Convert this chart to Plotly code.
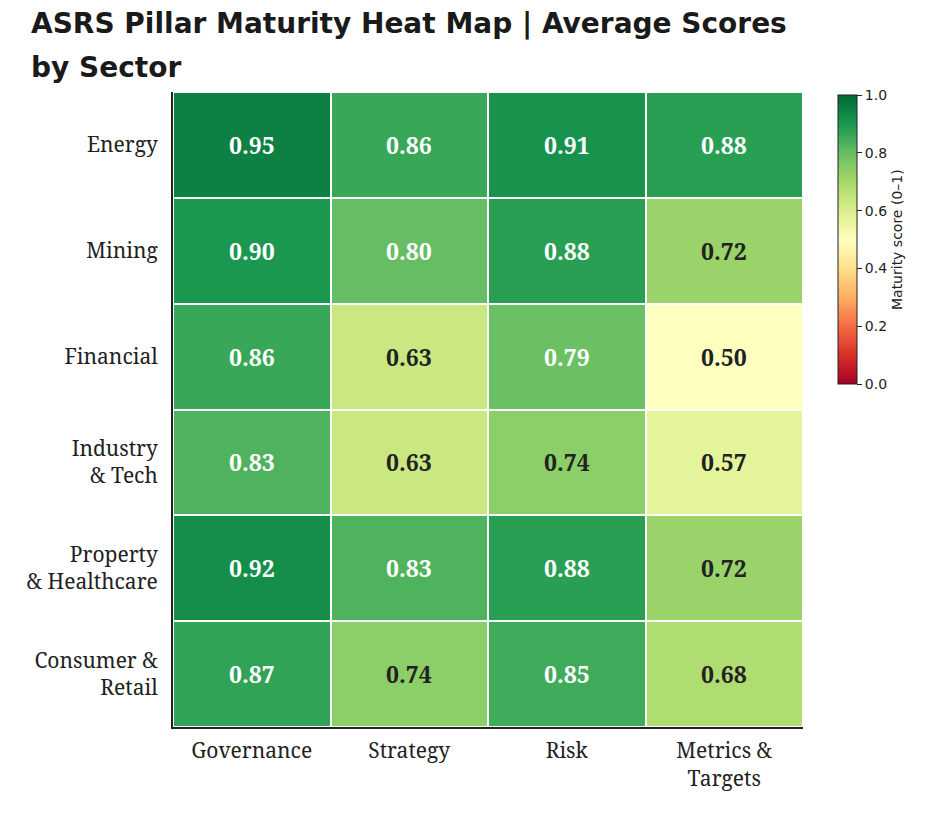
import plotly.graph_objects as go

sectors = ["Energy", "Mining", "Financial", "Industry<br>& Tech", "Property<br>& Healthcare", "Consumer &<br>Retail"]
pillars = ["Governance", "Strategy", "Risk", "Metrics &<br>Targets"]
scores = [
    [0.95, 0.86, 0.91, 0.88],
    [0.90, 0.80, 0.88, 0.72],
    [0.86, 0.63, 0.79, 0.50],
    [0.83, 0.63, 0.74, 0.57],
    [0.92, 0.83, 0.88, 0.72],
    [0.87, 0.74, 0.85, 0.68],
]
title_lines = ["ASRS Pillar Maturity Heat Map | Average Scores", "by Sector"]

serif = "Noto Serif, DejaVu Serif, Liberation Serif, serif"

fig = go.Figure(go.Heatmap(
    z=scores, x=pillars, y=sectors,
    colorscale="RdYlGn", zmin=0, zmax=1,
    xgap=2, ygap=2,
    hoverinfo="skip",
    colorbar=dict(
        x=1.0556, xanchor="left", y=0.995, yanchor="top",
        xpad=0, ypad=0,
        len=289, lenmode="pixels", thickness=19,
        outlinecolor="#222", outlinewidth=1,
        tickvals=[0, 0.2, 0.4, 0.6, 0.8, 1.0], tickformat=".1f",
        ticks="outside", ticklen=5, tickcolor="#222",
        tickfont=dict(family="DejaVu Sans", size=14, color="#222"),
        title=dict(text="Maturity score (0–1)", side="right",
                   font=dict(family="DejaVu Sans", size=14, color="#222")),
    ),
))

for i, s in enumerate(sectors):
    for j, p in enumerate(pillars):
        v = scores[i][j]
        fig.add_annotation(x=p, y=s, text=f"<b>{v:.2f}</b>", showarrow=False,
                           font=dict(family=serif, size=23,
                                     color="white" if v >= 0.75 else "#222"))

for k, line in enumerate(title_lines):
    fig.add_annotation(
        text=f"<b>{line}</b>",
        xref="paper", yref="paper", x=-0.2285, y=1.1372 - k * 44 / 635,
        xanchor="left", yanchor="top", align="left", showarrow=False,
        font=dict(family="DejaVu Sans", size=28, color="#1a1a1a"))

fig.update_layout(
    width=933, height=826,
    margin=dict(l=165, r=138, t=84, b=107),
    paper_bgcolor="white", plot_bgcolor="white",
    xaxis=dict(showline=True, linecolor="#222", linewidth=2, ticks="outside",
               ticklen=4, tickcolor="rgba(0,0,0,0)", showgrid=False,
               tickfont=dict(family=serif, size=21, color="#222")),
    yaxis=dict(autorange="reversed", showline=True, linecolor="#222", linewidth=2,
               ticks="", showgrid=False, ticklabelstandoff=9,
               tickfont=dict(family=serif, size=21, color="#222")),
)

fig.write_html("out.html")
